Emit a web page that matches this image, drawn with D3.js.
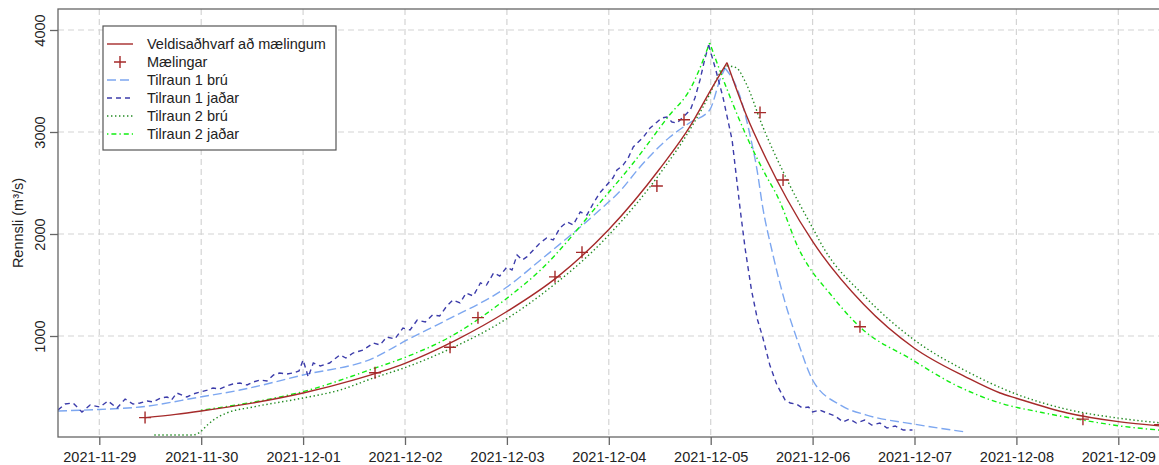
<!doctype html>
<html>
<head>
<meta charset="UTF-8">
<title>Rennsli</title>
<script src="https://d3js.org/d3.v7.min.js"></script>
<style>
	body { margin: 0; background: #fff; }
	.chart text { font-family: "Liberation Sans", Arial, sans-serif; font-size: 14.5px; fill: #222; }
</style>
</head>
<body>
<svg class="chart" width="1159" height="465"></svg>
<script>
// time is given in days after 2021-11-29 00:00
var tickLabels = ['2021-11-29', '2021-11-30', '2021-12-01', '2021-12-02', '2021-12-03', '2021-12-04',
	'2021-12-05', '2021-12-06', '2021-12-07', '2021-12-08', '2021-12-09'];
var yTicks = [1000, 2000, 3000, 4000];
var legendNames = ['Veldisaðhvarf að mælingum', 'Mælingar', 'Tilraun 1 brú', 'Tilraun 1 jaðar', 'Tilraun 2 brú', 'Tilraun 2 jaðar'];

var maelDays = [0.449, 2.706, 3.442, 3.716, 4.472, 4.737, 5.472, 5.738, 6.484, 6.71, 7.465, 9.653, 10.41];
var maelFlow = [200, 640, 890, 1180, 1580, 1820, 2470, 3120, 3190, 2530, 1090, 185, 130];

var fitDays = [0.45, 0.75, 1.0, 1.5, 2.0, 2.5, 3.0, 3.5, 4.0, 4.5, 5.0, 5.5, 5.8, 6.0, 6.16,
	6.35, 6.55, 6.75, 7.0, 7.5, 8.0, 8.5, 8.84, 9.0, 9.5, 10.0, 10.5];
var fitFlow = [200, 232, 265, 342, 441, 570, 732, 960, 1240, 1582, 2044, 2640, 3060, 3411, 3680,
	3164, 2726, 2341, 1927, 1311, 880, 600, 441, 390, 245, 160, 110];

var bru1Days = [-0.405, 0.0, 0.4, 0.99, 1.38, 2.0, 2.69, 3.02, 3.41, 4.0, 4.33, 4.91, 5.11, 5.3, 5.6,
	5.79, 5.99, 6.09, 6.14, 6.29, 6.39, 6.455, 6.51, 6.6, 6.73, 6.85, 7.0, 7.27, 7.53, 7.99, 8.5];
var bru1Flow = [265, 280, 304, 402, 470, 618, 784, 961, 1157, 1480, 1745, 2235, 2420, 2650, 2951,
	3088, 3216, 3510, 3627, 3343, 2951, 2627, 2265, 1843, 1330, 961, 569, 324, 225, 137, 59];

var jadar1Days = [-0.405, -0.336, -0.258, -0.17, -0.09, 0.007, 0.085, 0.174, 0.253, 0.331,
	0.4, 0.47, 0.53, 0.6, 0.665, 0.71, 0.76, 0.86, 0.92, 0.99,
	1.06, 1.116, 1.18, 1.25, 1.31, 1.38, 1.45, 1.51, 1.578, 1.645,
	1.71, 1.77, 1.84, 1.9, 1.96, 2.0, 2.03, 2.05, 2.1, 2.17,
	2.26, 2.36, 2.42, 2.49, 2.59, 2.69, 2.755, 2.82, 2.9, 2.98,
	3.05, 3.12, 3.2, 3.27, 3.34, 3.41, 3.47, 3.54, 3.6, 3.67,
	3.74, 3.8, 3.87, 3.93, 4.0, 4.05, 4.1, 4.15, 4.195, 4.26,
	4.325, 4.39, 4.455, 4.52, 4.59, 4.65, 4.72, 4.785, 4.85, 4.91,
	4.98, 5.04, 5.08, 5.14, 5.19, 5.24, 5.29, 5.34, 5.405, 5.474,
	5.52, 5.57, 5.62, 5.67, 5.73, 5.8, 5.845, 5.895, 5.94, 5.98,
	6.05, 6.12, 6.21, 6.29, 6.34, 6.4, 6.46, 6.51, 6.58, 6.65,
	6.73, 6.78, 6.84, 6.9, 6.96, 7.0, 7.07, 7.14, 7.22, 7.3,
	7.36, 7.43, 7.51, 7.58, 7.66, 7.73, 7.81, 7.89, 7.98];
var jadar1Flow = [275, 333, 343, 255, 324, 304, 363, 294, 382, 333,
	343, 363, 353, 392, 402, 373, 441, 402, 431, 451,
	470, 490, 480, 510, 529, 539, 520, 549, 569, 559,
	618, 637, 627, 637, 657, 765, 667, 598, 735, 706,
	735, 814, 784, 833, 863, 931, 912, 990, 971, 1078,
	1059, 1157, 1137, 1206, 1196, 1294, 1353, 1324, 1422, 1392,
	1520, 1500, 1618, 1588, 1676, 1647, 1794, 1745, 1775, 1843,
	1912, 1961, 1941, 2059, 2118, 2088, 2216, 2186, 2304, 2402,
	2480, 2549, 2627, 2676, 2745, 2853, 2902, 2951, 3039, 3098,
	3137, 3147, 3098, 3088, 3147, 3216, 3333, 3510, 3706, 3853,
	3608, 3343, 2922, 2235, 1843, 1451, 1157, 990, 716, 520,
	373, 343, 333, 294, 304, 255, 275, 245, 216, 157,
	186, 147, 176, 127, 147, 98, 118, 78, 78];

var bru2Days = [0.54, 0.92, 0.99, 1.06, 1.12, 1.25, 1.51, 2.0, 2.36, 2.69, 3.0, 3.44, 4.0, 4.33, 5.0,
	5.5, 5.8, 6.0, 6.08, 6.16, 6.25, 6.35, 6.5, 6.75, 7.0, 7.12, 7.5, 8.0, 8.5, 9.0, 9.5, 10.0, 10.5];
var bru2Flow = [30, 30, 59, 127, 176, 245, 304, 392, 470, 588, 690, 873, 1170, 1400, 1990,
	2590, 3030, 3390, 3560, 3650, 3630, 3470, 3080, 2530, 2060, 1843, 1400, 960, 660, 430, 280, 195, 140];

var jadar2Days = [1.0, 1.5, 2.0, 2.69, 3.0, 3.44, 4.0, 4.33, 4.91, 5.24, 5.58, 5.81, 5.99,
	6.19, 6.355, 6.55, 6.65, 6.87, 7.2, 7.465, 7.98, 8.4, 8.84, 9.25, 9.65, 10.0, 10.5];
var jadar2Flow = [272, 350, 455, 680, 790, 990, 1370, 1647, 2304, 2696, 3147, 3441, 3873,
	3343, 2951, 2559, 2380, 1843, 1380, 1088, 765, 520, 343, 250, 176, 120, 70];

var chart = d3.select('.chart');
var plot = {left: 58, top: 9, right: 1170, bottom: 437};
var day0 = Date.UTC(2021, 10, 29);
function toDate(d) {
	return new Date(day0 + d * 864e5);
}
var parseDay = d3.utcParse('%Y-%m-%d');
var tickDates = tickLabels.map(parseDay);

var x = d3.scaleUtc()
	.domain([tickDates[0], tickDates[tickDates.length - 1]])
	.range([99.3, 1118.3]);
var y = d3.scaleLinear()
	.domain([1000, 4000])
	.range([336, 30]);

chart.append('clipPath').attr('id', 'clip')
	.append('rect')
	.attr('x', plot.left).attr('y', plot.top)
	.attr('width', plot.right - plot.left).attr('height', plot.bottom - plot.top);

// grid
var grid = chart.append('g')
	.attr('stroke', '#d4d4d4')
	.attr('stroke-width', 1.2)
	.attr('stroke-dasharray', '6,4');
grid.selectAll('.vg').data(tickDates).enter().append('line')
	.attr('x1', function(d) { return x(d); })
	.attr('x2', function(d) { return x(d); })
	.attr('y1', plot.top).attr('y2', plot.bottom);
grid.selectAll('.hg').data(yTicks).enter().append('line')
	.attr('y1', function(d) { return y(d); })
	.attr('y2', function(d) { return y(d); })
	.attr('x1', plot.left).attr('x2', plot.right);

// axes
var xAxis = chart.append('g')
	.attr('transform', 'translate(0,' + plot.bottom + ')')
	.call(d3.axisBottom(x).tickValues(tickDates).tickFormat(d3.utcFormat('%Y-%m-%d')).tickSize(8).tickSizeOuter(0));
xAxis.select('.domain').remove();
xAxis.selectAll('line').attr('stroke', '#666').attr('stroke-width', 1.3);
xAxis.selectAll('text').attr('y', 15).attr('font-size', null).attr('font-family', null);

var yAxis = chart.append('g')
	.attr('transform', 'translate(' + plot.left + ',0)')
	.call(d3.axisLeft(y).tickValues(yTicks).tickFormat(d3.format('d')).tickSize(8).tickSizeOuter(0));
yAxis.select('.domain').remove();
yAxis.selectAll('line').attr('stroke', '#666').attr('stroke-width', 1.3);
yAxis.selectAll('text')
	.attr('x', 0).attr('dy', 0)
	.attr('text-anchor', 'middle')
	.attr('transform', 'translate(-13,0) rotate(-90)');
chart.selectAll('.tick text').attr('font-size', null).attr('font-family', null);

chart.append('text')
	.attr('transform', 'translate(23,' + ((plot.top + plot.bottom) / 2) + ') rotate(-90)')
	.attr('text-anchor', 'middle')
	.text('Rennsli (m³/s)');

// series
var lines = chart.append('g').attr('clip-path', 'url(#clip)').attr('fill', 'none');
var smooth = d3.line()
	.x(function(d) { return x(toDate(d[0])); })
	.y(function(d) { return y(d[1]); })
	.curve(d3.curveMonotoneX);
var straight = d3.line()
	.x(function(d) { return x(toDate(d[0])); })
	.y(function(d) { return y(d[1]); });

function drawSeries(days, flow, color, dash, width, gen) {
	var pts = d3.zip(days, flow);
	var top = d3.maxIndex(pts, function(d) { return d[1]; });
	// split at the peak so the crest stays sharp
	[pts.slice(0, top + 1), pts.slice(top)].forEach(function(part) {
		lines.append('path')
			.attr('d', gen(part))
			.attr('stroke', color)
			.attr('stroke-width', width)
			.attr('stroke-dasharray', dash);
	});
}

var styles = [
	{color: '#a52a2a', dash: null, width: 1.4},
	{color: '#a52a2a'},
	{color: '#7da7f0', dash: '9,4', width: 1.4},
	{color: '#3c3caa', dash: '5,4', width: 1.4},
	{color: '#228b22', dash: '1.4,2.6', width: 1.4},
	{color: '#11ee11', dash: '1.4,3,5,3', width: 1.4}
];

drawSeries(bru1Days, bru1Flow, styles[2].color, styles[2].dash, styles[2].width, smooth);
drawSeries(jadar1Days, jadar1Flow, styles[3].color, styles[3].dash, styles[3].width, straight);
drawSeries(jadar2Days, jadar2Flow, styles[5].color, styles[5].dash, styles[5].width, smooth);
drawSeries(bru2Days, bru2Flow, styles[4].color, styles[4].dash, styles[4].width, smooth);
drawSeries(fitDays, fitFlow, styles[0].color, styles[0].dash, styles[0].width, smooth);

var plus = d3.symbol().type(d3.symbolCross);
lines.selectAll('.mael').data(d3.zip(maelDays, maelFlow)).enter().append('path')
	.attr('transform', function(d) { return 'translate(' + x(toDate(d[0])) + ',' + y(d[1]) + ')'; })
	.attr('d', 'M-6,0H6M0,-6V6')
	.attr('stroke', styles[1].color)
	.attr('stroke-width', 1.4);

// box
chart.append('rect')
	.attr('x', plot.left).attr('y', plot.top)
	.attr('width', plot.right - plot.left).attr('height', plot.bottom - plot.top)
	.attr('fill', 'none').attr('stroke', '#666').attr('stroke-width', 1.3);

// legend
var legend = chart.append('g');
legend.append('rect')
	.attr('x', 103).attr('y', 26).attr('width', 233).attr('height', 124)
	.attr('fill', '#fff').attr('stroke', '#555').attr('stroke-width', 1.2);
var item = legend.selectAll('.item').data(legendNames).enter().append('g')
	.attr('transform', function(d, i) { return 'translate(0,' + (44 + i * 18) + ')'; });
item.each(function(d, i) {
	var g = d3.select(this);
	var s = styles[i];
	if (i === 1) {
		g.append('path').attr('d', 'M114,0H126M120,-6V6')
			.attr('stroke', s.color).attr('stroke-width', 1.4);
	} else {
		g.append('line').attr('x1', 107).attr('x2', 133)
			.attr('stroke', s.color).attr('stroke-width', s.width)
			.attr('stroke-dasharray', s.dash);
	}
	g.append('text').attr('x', 147).attr('dy', '0.35em').text(d);
});
</script>
</body>
</html>
